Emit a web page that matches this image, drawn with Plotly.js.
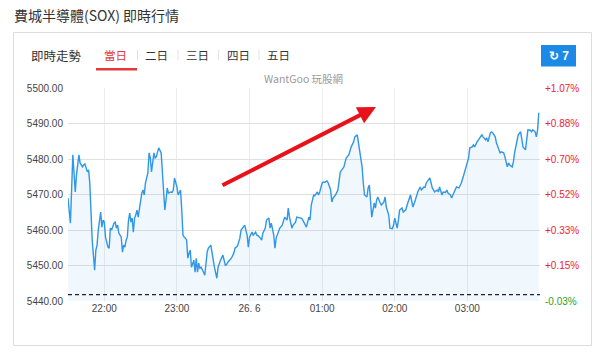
<!DOCTYPE html>
<html>
<head>
<meta charset="utf-8">
<script src="https://cdn.plot.ly/plotly-3.0.1.min.js"></script>
<style>
html,body{margin:0;padding:0;background:#fff;}
#chart{width:600px;height:352px;}
</style>
</head>
<body>
<div id="chart"></div>
<script>
// ---- data (minutes after 21:30 session open, index value) ----
const sessionStart = {year: 2024, month: 6, day: 25, hour: 21, minute: 30};
const sessionMinutes = 390;
const minutes = [0,2,4,6,7,9,10,12,13,14,16,17,18,19,20,22,23,24,25,27,28,29,30,31,33,34,35,36,38,39,40,41,42,44,45,46,47,48,49,50,
51,52,53,54,55,56,57,58,59,60,61,62,63,64,66,67,68,69,70,71,72,73,74,75,77,78,79,80,81,82,83,85,86,87,88,89,90,91,93,94,
95,96,97,98,99,100,101,102,104,105,106,107,108,109,110,112,113,115,116,118,119,120,121,123,124,126,127,128,130,131,132,134,135,137,138,140,142,143,145,146,
148,149,150,152,153,155,156,157,159,160,161,163,164,166,167,168,170,171,172,174,175,177,178,179,181,182,183,185,186,188,189,190,192,193,194,196,197,199,200,201,
202,203,204,206,207,208,210,211,212,214,215,217,218,219,221,222,223,225,226,228,229,230,232,233,234,236,237,239,240,241,243,244,245,247,248,249,250,251,253,254,
255,256,258,259,261,262,263,265,266,268,269,270,271,272,273,274,276,277,279,280,281,283,284,285,287,288,289,291,292,294,295,296,298,299,301,302,303,305,306,307,
309,310,312,313,314,316,317,318,320,321,323,324,325,327,328,329,331,332,334,335,336,338,339,340,342,343,345,346,347,349,350,351,353,354,356,357,358,360,361,363,
364,365,367,368,369,371,372,374,375,376,378,379,380,382,383,384,386,387,388,389];
const prices = [5469.01,5461.95,5481.16,5470.71,5475.51,5481.16,5478.90,5477.77,5478.33,5478.62,5476.36,5476.92,5473.25,5464.77,5457.14,5448.67,5454.32,5455.73,5459.97,5465.06,
5460.82,5462.80,5462.23,5457.99,5455.17,5454.90,5460.53,5459.97,5461.95,5462.23,5460.53,5461.38,5459.12,5457.99,5453.76,5455.73,5455.17,5457.14,5457.99,5462.80,
5464.77,5462.23,5463.36,5459.40,5463.36,5464.21,5465.62,5463.64,5466.19,5468.45,5470.42,5471.27,5469.86,5473.25,5476.07,5481.72,5480.31,5476.36,5479.75,5481.72,
5480.31,5480.59,5482.01,5483.14,5481.72,5476.07,5470.42,5465.62,5468.45,5471.84,5470.42,5470.71,5470.60,5471.27,5474.66,5473.53,5472.12,5469.86,5471.27,5465.62,
5458.56,5457.99,5457.71,5457.14,5452.06,5453.47,5454.32,5449.52,5451.50,5448.11,5452.06,5448.11,5450.65,5449.24,5449.52,5448.11,5447.26,5453.76,5454.89,5455.73,
5453.47,5452.34,5449.52,5446.41,5449.52,5451.50,5452.34,5452.91,5450.08,5450.20,5450.93,5451.50,5452.06,5453.47,5454.89,5455.45,5457.71,5459.97,5460.82,5461.38,
5458.56,5455.17,5457.99,5459.40,5458.56,5459.40,5458.56,5458.40,5457.71,5457.14,5459.12,5460.53,5462.80,5463.36,5460.53,5461.95,5458.56,5454.89,5457.71,5459.40,
5460.53,5461.38,5462.23,5463.64,5462.80,5466.19,5463.64,5460.53,5461.38,5462.23,5463.64,5463.50,5463.36,5463.30,5462.80,5461.38,5460.82,5463.64,5462.80,5467.03,
5469.01,5469.86,5469.70,5470.71,5469.86,5470.71,5473.25,5473.53,5473.40,5473.81,5473.25,5471.27,5467.88,5469.01,5469.86,5470.71,5471.27,5476.36,5476.92,5477.77,
5479.18,5480.31,5481.16,5482.57,5483.42,5484.83,5486.24,5486.81,5484.55,5481.72,5477.77,5473.25,5469.86,5469.29,5471.84,5472.68,5468.45,5463.64,5467.60,5466.19,
5468.45,5469.29,5467.60,5467.03,5467.88,5469.29,5466.47,5464.21,5460.53,5460.40,5461.38,5463.36,5461.95,5460.53,5462.80,5465.62,5466.19,5465.06,5465.62,5466.47,
5467.88,5469.86,5467.60,5466.47,5468.45,5469.86,5470.71,5472.12,5471.27,5472.12,5472.00,5473.25,5474.10,5474.66,5471.84,5471.27,5470.71,5471.27,5470.71,5472.12,
5469.86,5470.71,5470.60,5471.27,5470.42,5469.86,5469.01,5469.86,5471.27,5472.12,5471.84,5472.68,5473.25,5475.51,5476.92,5477.49,5480.31,5483.14,5483.42,5483.98,
5483.42,5484.83,5485.39,5485.96,5486.81,5486.24,5485.39,5485.96,5484.83,5487.37,5487.66,5487.37,5486.24,5484.55,5482.57,5481.72,5482.01,5481.72,5480.59,5477.77,
5478.90,5478.33,5477.77,5479.18,5481.72,5484.55,5486.81,5487.66,5485.39,5483.42,5482.57,5484.83,5488.22,5488.10,5487.66,5488.22,5487.66,5486.24,5488.22,5493.02];
const prevClose = 5441.8;

// ---- axis tick content ----
const yTicks = [5440, 5450, 5460, 5470, 5480, 5490, 5500];
const pctLabels = ['-0.03%', '+0.15%', '+0.33%', '+0.52%', '+0.70%', '+0.88%', '+1.07%'];
const xTickHours = [22, 23, 24, 25, 26, 27];
const xTickLabels = ['22:00', '23:00', '26. 6', '01:00', '02:00', '03:00'];

// ---- page texts ----
const pageTitle = '費城半導體(SOX) 即時行情';
const panelLabel = '即時走勢';
const tabs = ['當日', '二日', '三日', '四日', '五日'];
const refreshCount = '7';
const watermark = 'WantGoo 玩股網';

// ---- helpers ----
function pad(n){return (n<10?'0':'')+n;}
function stamp(offsetMin){
  const total = sessionStart.hour*60 + sessionStart.minute + offsetMin;
  const day = sessionStart.day + Math.floor(total/1440);
  const t = total % 1440;
  return sessionStart.year+'-'+pad(sessionStart.month)+'-'+pad(day)+' '+pad(Math.floor(t/60))+':'+pad(t%60);
}
function hourStamp(h){
  const day = sessionStart.day + Math.floor(h/24);
  return sessionStart.year+'-'+pad(sessionStart.month)+'-'+pad(day)+' '+pad(h%24)+':00';
}
const times = minutes.map(stamp);
const xStart = stamp(0), xEnd = stamp(sessionMinutes);

const W = 600, H = 352;
const M = {l:68, r:60, t:88, b:51};
const PW = W - M.l - M.r, PH = H - M.t - M.b;
const fx = px => (px - M.l) / PW;
const fy = py => (H - M.b - py) / PH;

const RED = '#ee2233', GREEN = '#1fa31f';
const CJK = '"Noto Sans CJK TC", "Noto Sans CJK SC", sans-serif';
const LAT = '"Liberation Sans", Arial, sans-serif';

const traces = [
  {
    x: times, y: prices, type: 'scatter', mode: 'lines',
    line: {color: '#3096e6', width: 1.4},
    fill: 'tozeroy', fillcolor: 'rgba(48,150,230,0.07)',
    hoverinfo: 'skip'
  },
  {
    x: [xStart, xEnd], y: [prevClose, prevClose], type: 'scatter', mode: 'lines',
    yaxis: 'y2',
    line: {color: '#222', width: 1.2, dash: '4px,3px'},
    hoverinfo: 'skip'
  }
];

const annotations = [
  {text: pageTitle, xref:'paper', yref:'paper', x: fx(12), y: fy(15), xanchor:'left', yanchor:'middle', showarrow:false,
   font:{family: CJK, size: 14, color:'#333'}},
  {text: panelLabel, xref:'paper', yref:'paper', x: fx(29), y: fy(55), xanchor:'left', yanchor:'middle', showarrow:false,
   font:{family: CJK, size: 12.5, color:'#333'}},
  {text: watermark, xref:'paper', yref:'paper', x: fx(303), y: fy(78), xanchor:'center', yanchor:'middle', showarrow:false,
   font:{family: CJK, size: 10.5, color:'#9a9a9a'}},
  {text: '<b>↻ ' + refreshCount + '</b>', xref:'paper', yref:'paper', x: fx(558.5), y: fy(56), xanchor:'center', yanchor:'middle', showarrow:false,
   font:{family: LAT, size: 12, color:'#ffffff'}},
  // red trend arrow
  {text:'', xref:'paper', yref:'paper', x: fx(376), y: fy(107), ax: -155, ay: 79, axref:'pixel', ayref:'pixel',
   showarrow:true, arrowhead:2, arrowsize:0.9, arrowwidth:4, arrowcolor:'#e8121a'}
];
const tabCenters = [115.5, 156.5, 197, 238, 278.5];
tabs.forEach((t, i) => {
  annotations.push({text: t, xref:'paper', yref:'paper', x: fx(tabCenters[i]), y: fy(55), xanchor:'center', yanchor:'middle',
    showarrow:false, font:{family: CJK, size: 11.5, color: i === 0 ? '#e4393c' : '#333'}});
});

const shapes = [
  // outer panel border
  {type:'rect', xref:'paper', yref:'paper', x0: fx(13.5), x1: fx(591.5), y0: fy(345.5), y1: fy(32.5),
   line:{color:'#dddddd', width:1}, fillcolor:'rgba(0,0,0,0)', layer:'below'},
  // active tab underline
  {type:'rect', xref:'paper', yref:'paper', x0: fx(96), x1: fx(137), y0: fy(70.5), y1: fy(68),
   line:{width:0}, fillcolor:'#e4393c'},
  // refresh button
  {type:'rect', xref:'paper', yref:'paper', x0: fx(541), x1: fx(576), y0: fy(66.5), y1: fy(45),
   line:{width:0}, fillcolor:'#1b89e5'}
];
[137.5, 178, 218.5, 259].forEach(sx => {
  shapes.push({type:'line', xref:'paper', yref:'paper', x0: fx(sx), x1: fx(sx), y0: fy(60), y1: fy(50),
    line:{color:'#e2e2e2', width:1}});
});

const layout = {
  width: W, height: H,
  margin: M,
  paper_bgcolor: '#fff', plot_bgcolor: '#fff',
  showlegend: false,
  hovermode: false,
  xaxis: {
    type: 'date', range: [xStart, xEnd],
    tickvals: xTickHours.map(hourStamp), ticktext: xTickLabels,
    showgrid: true, gridcolor: '#ececec', gridwidth: 1,
    zeroline: false, showline: false, ticks: '',
    tickfont: {family: LAT, size: 10, color: '#444'},
    fixedrange: true
  },
  yaxis: {
    range: [yTicks[0], yTicks[yTicks.length-1]],
    tickvals: yTicks, tickformat: '.2f',
    showgrid: true, gridcolor: '#e0e0e0', gridwidth: 1,
    zeroline: false, showline: false, ticks: '',
    tickfont: {family: LAT, size: 10, color: '#444'},
    ticklabelstandoff: 4,
    fixedrange: true
  },
  yaxis2: {
    overlaying: 'y', side: 'right',
    range: [yTicks[0], yTicks[yTicks.length-1]],
    tickvals: yTicks,
    ticktext: pctLabels.map(s => '<span style="color:' + (s.charAt(0) === '-' ? GREEN : RED) + '">' + s + '</span>'),
    showgrid: false, zeroline: false, showline: false, ticks: '',
    tickfont: {family: LAT, size: 10, color: RED},
    ticklabelstandoff: 4,
    fixedrange: true
  },
  annotations: annotations,
  shapes: shapes
};

Plotly.newPlot('chart', traces, layout, {displayModeBar: false, staticPlot: true});
</script>
</body>
</html>
